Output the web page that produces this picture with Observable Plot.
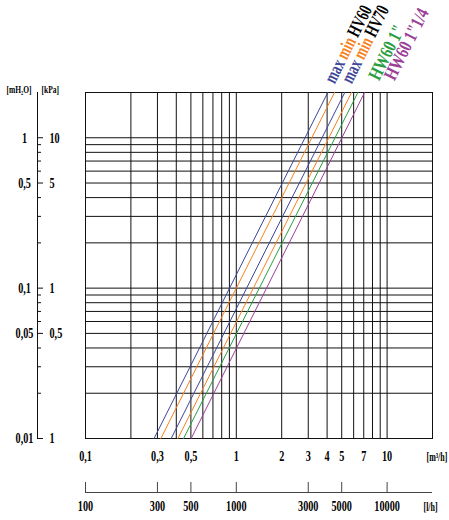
<!DOCTYPE html>
<html>
<head>
<meta charset="utf-8">
<script src="https://cdn.jsdelivr.net/npm/d3@7"></script>
<script src="https://cdn.jsdelivr.net/npm/@observablehq/plot@0.6"></script>
<style>
html, body { margin: 0; padding: 0; background: #fff; }
</style>
</head>
<body>
<div id="chart"></div>
<script>
// ---------------- DATA ----------------
const seriesNames = ["HV60 max", "HV60 min", "HV70 max", "HV70 min", "HW60 1\"", "HW60 1\"1/4"];
const pressureEnds = [0.1, 20];                                   // kPa at bottom / top end of each line
const flowAtLowEnd = [0.285, 0.316, 0.370, 0.410, 0.447, 0.502];  // m³/h at 0.1 kPa
const flowAtHighEnd = [4.04, 4.48, 5.24, 5.81, 6.40, 7.09];       // m³/h at 20 kPa

const flowGrid = [0.2, 0.3, 0.4, 0.5, 0.6, 0.7, 0.8, 0.9, 1, 2, 3, 4, 5, 6, 7, 8, 9, 10];
const pressureGrid = [0.2, 0.3, 0.4, 0.5, 0.6, 0.7, 0.8, 0.9, 1, 2, 3, 4, 5, 6, 7, 8, 9, 10];

const flowTickValues = [0.1, 0.3, 0.5, 1, 2, 3, 4, 5, 7, 10];
const flowTickLabels = ["0,1", "0,3", "0,5", "1", "2", "3", "4", "5", "7", "10"];
const litreTickValues = [100, 300, 500, 1000, 3000, 5000, 10000];
const litreTickLabels = ["100", "300", "500", "1000", "3000", "5000", "10000"];

const pressureMajor = [10, 5, 1, 0.5, 0.1];
const kPaLabels = ["10", "5", "1", "0,5", "1"];
const mH2OLabels = ["1", "0,5", "0,1", "0,05", "0,01"];
const pressureMinor = [9, 8, 7, 6, 4, 3, 2, 0.9, 0.8, 0.7, 0.6, 0.4, 0.3, 0.2];

const labelWords = [["max", "min", "HV60"], ["max", "min", "HV70"], ["HW60 1\""], ["HW60 1\"1/4"]];
const labelWordSeries = [[0, 1, -1], [2, 3, -1], [4], [5]];   // -1 = black
const labelAnchorSeries = [0, 2, 4, 5];

// ---------------- STYLE ----------------
const seriesColors = ["#3d4597", "#f58220", "#3d4597", "#f58220", "#2a9d3f", "#9c3f98"];
const labelOffsets = [[7, -8], [7, -8], [21, -11], [30, -11]];
const labelCondense = [0.68, 0.68, 0.76, 0.76];
const W = 449, H = 520;
const mL = 85, mR = 17, mT = 92, mB = 82;
const frameW = W - mL - mR, frameH = H - mT - mB;
const FONT = "'Liberation Serif', 'Times New Roman', serif";
const LABEL_SIZE = 19;
const condense = {15: 0.68, 11: 0.68, 12: 0.66};
const angle = Math.atan(2);               // slope of quadratic lines on equal-decade log axes
const rotDeg = -angle * 180 / Math.PI;

const ctx = document.createElement("canvas").getContext("2d");
function wordWidth(s, size, f) {
  ctx.font = `bold ${size}px ${FONT}`;
  return ctx.measureText(s).width * f;
}

// ---------------- MARKS ----------------
const marks = [];

// grid + frame
marks.push(Plot.ruleX(flowGrid, {x: d => d, stroke: "#111", strokeWidth: 1}));
marks.push(Plot.ruleY(pressureGrid, {y: d => d, stroke: "#111", strokeWidth: 1}));
marks.push(Plot.frame({stroke: "#111", strokeWidth: 1}));

// curves
seriesNames.forEach((name, i) => {
  const rows = pressureEnds.map((p, j) => ({name, q: j === 0 ? flowAtLowEnd[i] : flowAtHighEnd[i], dp: p}));
  marks.push(Plot.line(rows, {x: "q", y: "dp", stroke: seriesColors[i], strokeWidth: 1}));
});

// curve labels
const labelFactor = new Map();
labelWords.forEach((words, k) => {
  const s = labelAnchorSeries[k];
  const anchor = [{q: flowAtHighEnd[s], dp: pressureEnds[1]}];
  let along = 0;
  words.forEach((w, n) => {
    const ci = labelWordSeries[k][n];
    labelFactor.set(w, labelCondense[k]);
    marks.push(Plot.text(anchor, {
      x: "q", y: "dp", text: () => w,
      rotate: rotDeg, textAnchor: "start", lineAnchor: "bottom",
      fontSize: LABEL_SIZE, fontWeight: "bold", fontFamily: FONT,
      fill: ci < 0 ? "#000" : seriesColors[ci],
      dx: labelOffsets[k][0] + along * Math.cos(angle),
      dy: labelOffsets[k][1] - along * Math.sin(angle)
    }));
    along += wordWidth(w + " ", LABEL_SIZE, labelCondense[k]);
  });
});

// left pressure axis
marks.push(Plot.ruleX([0.1], {x: d => d, dx: -48, stroke: "#111"}));
marks.push(Plot.tickY(pressureMajor, {y: d => d, dx: -48, insetRight: frameW - 6, stroke: "#111"}));
marks.push(Plot.tickY(pressureMinor, {y: d => d, dx: -48, insetRight: frameW - 4, stroke: "#111"}));
marks.push(Plot.text(pressureMajor, {y: d => d, text: (d, i) => kPaLabels[i], frameAnchor: "left", dx: -36,
  textAnchor: "start", fontSize: 15, fontWeight: "bold", fontFamily: FONT, fill: "#000"}));
marks.push(Plot.text(pressureMajor, {y: d => d, text: (d, i) => mH2OLabels[i], frameAnchor: "left", dx: -61,
  textAnchor: "middle", fontSize: 15, fontWeight: "bold", fontFamily: FONT, fill: "#000"}));
marks.push(Plot.text(["[mH₂O]"], {text: d => d, frameAnchor: "top-left", dx: -79, dy: -7,
  textAnchor: "start", fontSize: 11, fontWeight: "bold", fontFamily: FONT, fill: "#000"}));
marks.push(Plot.text(["[kPa]"], {text: d => d, frameAnchor: "top-left", dx: -44, dy: -7,
  textAnchor: "start", fontSize: 11, fontWeight: "bold", fontFamily: FONT, fill: "#000"}));

// bottom m³/h labels
marks.push(Plot.text(flowTickValues, {x: d => d, text: (d, i) => flowTickLabels[i], frameAnchor: "bottom", dy: 22,
  textAnchor: "middle", fontSize: 15, fontWeight: "bold", fontFamily: FONT, fill: "#000"}));
marks.push(Plot.text(["[m³/h]"], {text: d => d, frameAnchor: "bottom-right", dx: -6, dy: 22,
  textAnchor: "start", fontSize: 12, fontWeight: "bold", fontFamily: FONT, fill: "#000"}));

// second axis in l/h
marks.push(Plot.ruleY([0.1], {y: d => d, dy: 54, stroke: "#444"}));
marks.push(Plot.tickX(litreTickValues, {x: d => d / 1000, dy: 54, insetTop: frameH - 10, stroke: "#444"}));
marks.push(Plot.text(litreTickValues, {x: d => d / 1000, text: (d, i) => litreTickLabels[i], frameAnchor: "bottom", dy: 72,
  textAnchor: "middle", fontSize: 15, fontWeight: "bold", fontFamily: FONT, fill: "#000"}));
marks.push(Plot.text(["[l/h]"], {text: d => d, frameAnchor: "bottom-right", dx: -9, dy: 72,
  textAnchor: "start", fontSize: 12, fontWeight: "bold", fontFamily: FONT, fill: "#000"}));

const chart = Plot.plot({
  width: W, height: H,
  marginLeft: mL, marginRight: mR, marginTop: mT, marginBottom: mB,
  x: {type: "log", domain: [0.1, 20], axis: null},
  y: {type: "log", domain: [0.1, 20], axis: null},
  style: {background: "#fff", fontFamily: FONT, overflow: "visible"},
  marks
});
document.getElementById("chart").appendChild(chart);

// condensed lettering like the original (glyphs narrowed, text stays text)
chart.querySelectorAll("text").forEach(t => {
  const fs = Math.round(parseFloat(getComputedStyle(t).fontSize));
  const f = fs === LABEL_SIZE ? labelFactor.get(t.textContent) : condense[fs];
  if (!f) return;
  const w = t.getComputedTextLength();
  if (w > 0) {
    t.setAttribute("textLength", (w * f).toFixed(2));
    t.setAttribute("lengthAdjust", "spacingAndGlyphs");
  }
});
</script>
</body>
</html>
